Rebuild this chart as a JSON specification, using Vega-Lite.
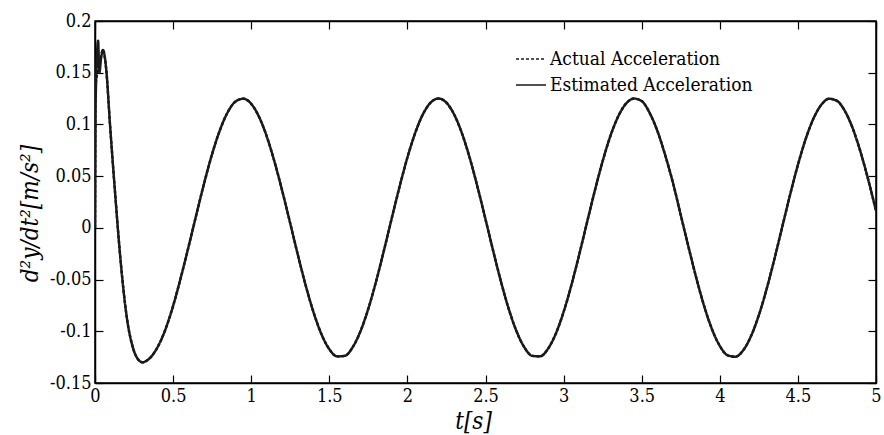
{
  "$schema": "https://vega.github.io/schema/vega-lite/v6.json",
  "width": 781,
  "height": 362,
  "autosize": {"type": "none"},
  "padding": {"left": 95, "top": 21, "right": 8, "bottom": 52},
  "background": "white",
  "config": {
    "font": "DejaVu Serif Condensed, DejaVu Serif",
    "view": {"stroke": "#000", "strokeWidth": 1.5},
    "axis": {
      "labelFont": "DejaVu Serif Condensed, DejaVu Serif",
      "labelFontSize": 18,
      "labelColor": "#000",
      "titleFont": "DejaVu Serif Condensed, DejaVu Serif",
      "titleFontSize": 24,
      "titleFontStyle": "italic",
      "titleFontWeight": "normal",
      "titleColor": "#000",
      "domainColor": "#000",
      "domainWidth": 1.5,
      "tickColor": "#000",
      "tickWidth": 1.2,
      "grid": false
    },
    "legend": {
      "labelFont": "DejaVu Serif Condensed, DejaVu Serif",
      "labelFontSize": 19,
      "labelColor": "#000",
      "labelLimit": 400
    }
  },
  "data": {
    "values": [
      {"t": 0, "act": 0, "est": 0},
      {"t": 0.003, "act": 0.135},
      {"t": 0.004, "est": 0.12},
      {"t": 0.012, "act": 0.148},
      {"t": 0.02, "est": 0.181},
      {"t": 0.028, "est": 0.15},
      {"t": 0.03, "act": 0.16},
      {"t": 0.04, "est": 0.165},
      {"t": 0.051, "act": 0.172, "est": 0.172},
      {"t": 0.072, "act": 0.153, "est": 0.153},
      {"t": 0.096, "act": 0.1, "est": 0.1},
      {"t": 0.128, "act": 0.035, "est": 0.035},
      {"t": 0.157, "act": -0.02, "est": -0.02},
      {"t": 0.176, "act": -0.051, "est": -0.051},
      {"t": 0.205, "act": -0.088, "est": -0.088},
      {"t": 0.243, "act": -0.116, "est": -0.116},
      {"t": 0.275, "act": -0.127, "est": -0.127},
      {"t": 0.305, "act": -0.13, "est": -0.13},
      {"t": 0.33, "act": -0.1285, "est": -0.1285},
      {"t": 0.36, "act": -0.1245, "est": -0.1245},
      {"t": 0.4, "act": -0.1155, "est": -0.1155},
      {"t": 0.45, "act": -0.0985, "est": -0.0985},
      {"t": 0.5, "act": -0.0755, "est": -0.0755},
      {"t": 0.55, "act": -0.0477, "est": -0.0477},
      {"t": 0.6, "act": -0.0176, "est": -0.0176},
      {"t": 0.65, "act": 0.0135, "est": 0.0135},
      {"t": 0.7, "act": 0.0439, "est": 0.0439},
      {"t": 0.75, "act": 0.0715, "est": 0.0715},
      {"t": 0.8, "act": 0.0946, "est": 0.0946},
      {"t": 0.85, "act": 0.1119, "est": 0.1119},
      {"t": 0.9, "act": 0.1222, "est": 0.1222},
      {"t": 0.95, "act": 0.1249, "est": 0.1249},
      {"t": 1.0, "act": 0.1199, "est": 0.1199},
      {"t": 1.05, "act": 0.1074, "est": 0.1074},
      {"t": 1.1, "act": 0.0882, "est": 0.0882},
      {"t": 1.15, "act": 0.0635, "est": 0.0635},
      {"t": 1.2, "act": 0.0349, "est": 0.0349},
      {"t": 1.25, "act": 0.0042, "est": 0.0042},
      {"t": 1.3, "act": -0.0269, "est": -0.0269},
      {"t": 1.35, "act": -0.0563, "est": -0.0563},
      {"t": 1.4, "act": -0.0821, "est": -0.0821},
      {"t": 1.45, "act": -0.1029, "est": -0.1029},
      {"t": 1.5, "act": -0.1173, "est": -0.1173},
      {"t": 1.55, "act": -0.1243, "est": -0.1243},
      {"t": 1.6, "act": -0.1237, "est": -0.1237},
      {"t": 1.65, "act": -0.1153, "est": -0.1153},
      {"t": 1.7, "act": -0.0998, "est": -0.0998},
      {"t": 1.75, "act": -0.0781, "est": -0.0781},
      {"t": 1.8, "act": -0.0515, "est": -0.0515},
      {"t": 1.85, "act": -0.0217, "est": -0.0217},
      {"t": 1.9, "act": 0.0094, "est": 0.0094},
      {"t": 1.95, "act": 0.0399, "est": 0.0399},
      {"t": 2.0, "act": 0.068, "est": 0.068},
      {"t": 2.05, "act": 0.0918, "est": 0.0918},
      {"t": 2.1, "act": 0.11, "est": 0.11},
      {"t": 2.15, "act": 0.1213, "est": 0.1213},
      {"t": 2.2, "act": 0.125, "est": 0.125},
      {"t": 2.25, "act": 0.121, "est": 0.121},
      {"t": 2.3, "act": 0.1094, "est": 0.1094},
      {"t": 2.35, "act": 0.0911, "est": 0.0911},
      {"t": 2.4, "act": 0.0671, "est": 0.0671},
      {"t": 2.45, "act": 0.0389, "est": 0.0389},
      {"t": 2.5, "act": 0.0083, "est": 0.0083},
      {"t": 2.55, "act": -0.0228, "est": -0.0228},
      {"t": 2.6, "act": -0.0525, "est": -0.0525},
      {"t": 2.65, "act": -0.079, "est": -0.079},
      {"t": 2.7, "act": -0.1005, "est": -0.1005},
      {"t": 2.75, "act": -0.1158, "est": -0.1158},
      {"t": 2.8, "act": -0.1238, "est": -0.1238},
      {"t": 2.85, "act": -0.1242, "est": -0.1242},
      {"t": 2.9, "act": -0.1169, "est": -0.1169},
      {"t": 2.95, "act": -0.1023, "est": -0.1023},
      {"t": 3.0, "act": -0.0813, "est": -0.0813},
      {"t": 3.05, "act": -0.0553, "est": -0.0553},
      {"t": 3.1, "act": -0.0258, "est": -0.0258},
      {"t": 3.15, "act": 0.0053, "est": 0.0053},
      {"t": 3.2, "act": 0.036, "est": 0.036},
      {"t": 3.25, "act": 0.0645, "est": 0.0645},
      {"t": 3.3, "act": 0.089, "est": 0.089},
      {"t": 3.35, "act": 0.1079, "est": 0.1079},
      {"t": 3.4, "act": 0.1202, "est": 0.1202},
      {"t": 3.45, "act": 0.125, "est": 0.125},
      {"t": 3.5, "act": 0.1226, "est": 0.1226},
      {"t": 3.55, "act": 0.1114, "est": 0.1114},
      {"t": 3.6, "act": 0.0939, "est": 0.0939},
      {"t": 3.65, "act": 0.0705, "est": 0.0705},
      {"t": 3.7, "act": 0.0436, "est": 0.0436},
      {"t": 3.75, "act": 0.0124, "est": 0.0124},
      {"t": 3.8, "act": -0.0187, "est": -0.0187},
      {"t": 3.85, "act": -0.0487, "est": -0.0487},
      {"t": 3.9, "act": -0.0757, "est": -0.0757},
      {"t": 3.95, "act": -0.098, "est": -0.098},
      {"t": 4.0, "act": -0.1141, "est": -0.1141},
      {"t": 4.05, "act": -0.1232, "est": -0.1232},
      {"t": 4.1, "act": -0.1246, "est": -0.1246},
      {"t": 4.15, "act": -0.1183, "est": -0.1183},
      {"t": 4.2, "act": -0.1046, "est": -0.1046},
      {"t": 4.25, "act": -0.0844, "est": -0.0844},
      {"t": 4.3, "act": -0.059, "est": -0.059},
      {"t": 4.35, "act": -0.0299, "est": -0.0299},
      {"t": 4.4, "act": 0.0011, "est": 0.0011},
      {"t": 4.45, "act": 0.032, "est": 0.032},
      {"t": 4.5, "act": 0.0609, "est": 0.0609},
      {"t": 4.55, "act": 0.086, "est": 0.086},
      {"t": 4.6, "act": 0.1058, "est": 0.1058},
      {"t": 4.65, "act": 0.119, "est": 0.119},
      {"t": 4.7, "act": 0.1248, "est": 0.1248},
      {"t": 4.75, "act": 0.1228, "est": 0.1228},
      {"t": 4.8, "act": 0.1132, "est": 0.1132},
      {"t": 4.85, "act": 0.0966, "est": 0.0966},
      {"t": 4.9, "act": 0.0739, "est": 0.0739},
      {"t": 4.95, "act": 0.0467, "est": 0.0467},
      {"t": 5.0, "act": 0.0165, "est": 0.0165}
    ]
  },
  "layer": [
    {
      "transform": [{"filter": {"field": "act", "valid": true}}],
      "mark": {"type": "line", "interpolate": "monotone", "color": "#000", "strokeWidth": 2.4, "clip": true},
      "encoding": {
        "x": {
          "field": "t", "type": "quantitative",
          "scale": {"domain": [0, 5], "nice": false, "zero": false},
          "axis": {
            "orient": "bottom",
            "values": [0, 0.5, 1, 1.5, 2, 2.5, 3, 3.5, 4, 4.5, 5],
            "format": "~g",
            "tickSize": -8,
            "labelPadding": 12,
            "labelFlush": false,
            "labelOverlap": false,
            "title": "t[s]",
            "titleX": 378,
            "titleY": 45,
            "titleBaseline": "alphabetic",
            "titleAnchor": "middle",
            "titleAlign": "center"
          }
        },
        "y": {
          "field": "act", "type": "quantitative",
          "scale": {"domain": [-0.15, 0.2], "nice": false, "zero": false},
          "axis": {
            "orient": "left",
            "values": [-0.15, -0.1, -0.05, 0, 0.05, 0.1, 0.15, 0.2],
            "format": "~g",
            "labelExpr": "replace(datum.label, '\u2212', '-')",
            "tickSize": -8,
            "labelPadding": 12,
            "labelFlush": false,
            "labelOverlap": false,
            "title": "d²y/dt²[m/s²]",
            "titleX": -58,
            "titleY": 192,
            "titleBaseline": "alphabetic",
            "titleAlign": "center",
            "titleAngle": -90
          }
        },
        "strokeDash": {
          "datum": "Actual Acceleration",
          "type": "nominal",
          "scale": {"domain": ["Actual Acceleration", "Estimated Acceleration"], "range": [[3, 2], [1, 0]]},
          "legend": {
            "title": null,
            "orient": "none",
            "legendX": 420,
            "legendY": 22,
            "symbolType": "stroke",
            "symbolSize": 900,
            "symbolStrokeColor": "#000",
            "symbolStrokeWidth": 1.6,
            "labelOffset": 3,
            "rowPadding": -8,
            "padding": 0
          }
        }
      }
    },
    {
      "transform": [{"filter": {"field": "est", "valid": true}}],
      "mark": {"type": "line", "interpolate": "monotone", "color": "#1a1a1a", "strokeWidth": 2.4, "clip": true},
      "encoding": {
        "x": {
          "field": "t", "type": "quantitative",
          "axis": {
            "orient": "top",
            "values": [0, 0.5, 1, 1.5, 2, 2.5, 3, 3.5, 4, 4.5, 5],
            "tickSize": -8,
            "labels": false,
            "title": null
          }
        },
        "y": {
          "field": "est", "type": "quantitative",
          "axis": {
            "orient": "right",
            "values": [-0.15, -0.1, -0.05, 0, 0.05, 0.1, 0.15, 0.2],
            "tickSize": -8,
            "labels": false,
            "title": null
          }
        },
        "strokeDash": {"datum": "Estimated Acceleration", "type": "nominal"}
      }
    }
  ],
  "resolve": {"axis": {"x": "independent", "y": "independent"}}
}
